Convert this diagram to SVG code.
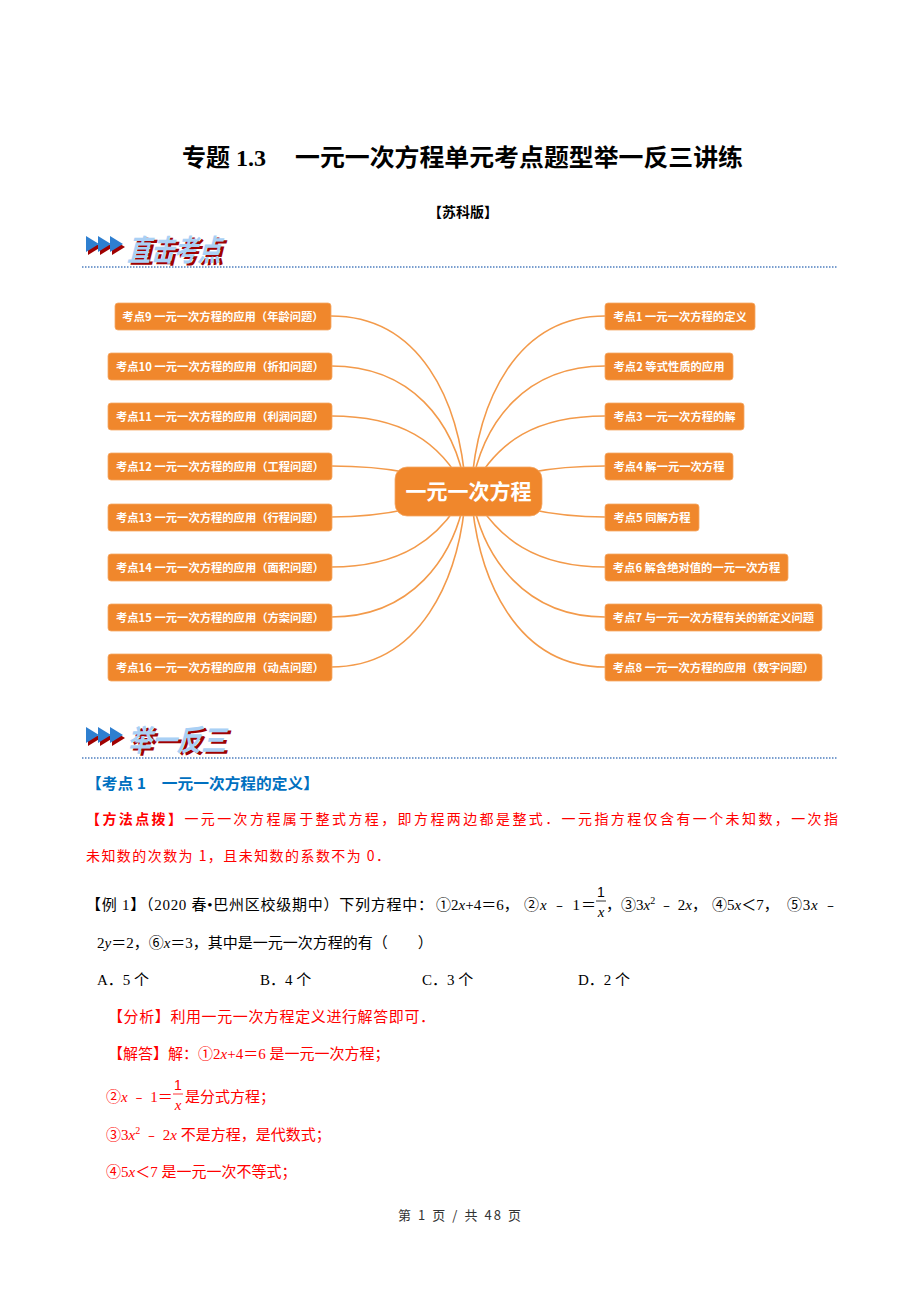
<svg xmlns="http://www.w3.org/2000/svg" width="920" height="1302" viewBox="0 0 920 1302">
<style>
.bg{fill:#fff}
.node rect{fill:#F0872C;stroke:#F5A866;stroke-width:0.8}
.nt{font-family:"Noto Sans CJK SC","Noto Sans",sans-serif;font-size:11.3px;font-weight:bold;fill:#fff;text-anchor:middle}
.ct{font-family:"Noto Sans CJK SC","Noto Sans",sans-serif;font-size:21px;font-weight:bold;fill:#fff;text-anchor:middle}
#connectors path{fill:none;stroke:#F39A4A;stroke-width:1.6}
.body{font-family:"Liberation Serif","Noto Sans CJK SC",serif;font-size:15px;fill:#000}
.red{fill:#FF0000}
.i{font-style:italic}
.dots{stroke:#4F7FC0;stroke-width:1.3;stroke-dasharray:1.5 1.5}
.shadow{fill:#A00000}
.tri{fill:#2E7FD0}
.hd{font-family:"Noto Sans CJK SC",sans-serif;font-size:26px;font-weight:bold}
</style>
<rect class="bg" x="0" y="0" width="920" height="1302"/>

<!-- Title -->
<g id="title">
<text x="182" y="166" style="font-family:'Noto Sans CJK SC',sans-serif;font-size:24px;font-weight:bold">专题<tspan style="font-family:'Liberation Serif',serif"> 1.3</tspan></text>
<text x="295" y="166" textLength="448" lengthAdjust="spacingAndGlyphs" style="font-family:'Noto Sans CJK SC',sans-serif;font-size:24px;font-weight:bold">一元一次方程单元考点题型举一反三讲练</text>
<text x="463" y="217" text-anchor="middle" style="font-family:'Noto Sans CJK SC',sans-serif;font-size:14px;font-weight:bold">【苏科版】</text>
</g>

<!-- Section header 1 -->
<g id="header1">
<polygon class="shadow" points="88,239 101,247 88,255"/>
<polygon class="shadow" points="100,239 113,247 100,255"/>
<polygon class="shadow" points="112,239 125,247 112,255"/>
<polygon class="tri" points="86,236 99,244 86,252"/>
<polygon class="tri" points="98,236 111,244 98,252"/>
<polygon class="tri" points="110,236 123,244 110,252"/>
<text class="hd shadow" transform="translate(130,263) skewX(-14) scale(0.9,1.15)">直击考点</text>
<text class="hd" fill="#A9D0F5" transform="translate(127,261) skewX(-14) scale(0.9,1.15)">直击考点</text>
<line class="dots" x1="82" y1="267" x2="838" y2="267"/>
</g>

<!-- Connectors -->
<g id="connectors">
<path d="M331,316 C420,316 460,400 466,491"/>
<path d="M331,366 C410,366 455,420 466,491"/>
<path d="M331,416 C400,416 440,440 466,491"/>
<path d="M331,466 C390,466 430,475 466,491"/>
<path d="M331,517 C390,517 430,505 466,491"/>
<path d="M331,567 C400,567 440,540 466,491"/>
<path d="M331,617 C410,617 455,560 466,491"/>
<path d="M331,667 C420,667 460,580 466,491"/>
<path d="M605,316 C517,316 477,400 471,491"/>
<path d="M605,366 C527,366 482,420 471,491"/>
<path d="M605,416 C537,416 497,440 471,491"/>
<path d="M605,466 C547,466 507,475 471,491"/>
<path d="M605,517 C547,517 507,505 471,491"/>
<path d="M605,567 C537,567 497,540 471,491"/>
<path d="M605,617 C527,617 482,560 471,491"/>
<path d="M605,667 C517,667 477,580 471,491"/>
</g>

<!-- Center node -->
<g id="center" class="node">
<rect x="395" y="467" width="147" height="49" rx="12"/>
<text class="ct" x="468.5" y="499">一元一次方程</text>
</g>

<!-- Left nodes -->
<g id="k9" class="node"><rect x="115" y="303" width="216" height="27" rx="3"/><text class="nt" x="223" y="320.5">考点9 一元一次方程的应用（年龄问题）</text></g>
<g id="k10" class="node"><rect x="108" y="353" width="224" height="27" rx="3"/><text class="nt" x="220" y="370.5">考点10 一元一次方程的应用（折扣问题）</text></g>
<g id="k11" class="node"><rect x="108" y="403" width="224" height="27" rx="3"/><text class="nt" x="220" y="420.5">考点11 一元一次方程的应用（利润问题）</text></g>
<g id="k12" class="node"><rect x="108" y="453" width="224" height="27" rx="3"/><text class="nt" x="220" y="470.5">考点12 一元一次方程的应用（工程问题）</text></g>
<g id="k13" class="node"><rect x="108" y="504" width="224" height="27" rx="3"/><text class="nt" x="220" y="521.5">考点13 一元一次方程的应用（行程问题）</text></g>
<g id="k14" class="node"><rect x="108" y="554" width="224" height="27" rx="3"/><text class="nt" x="220" y="571.5">考点14 一元一次方程的应用（面积问题）</text></g>
<g id="k15" class="node"><rect x="108" y="604" width="224" height="27" rx="3"/><text class="nt" x="220" y="621.5">考点15 一元一次方程的应用（方案问题）</text></g>
<g id="k16" class="node"><rect x="108" y="654" width="224" height="27" rx="3"/><text class="nt" x="220" y="671.5">考点16 一元一次方程的应用（动点问题）</text></g>

<!-- Right nodes -->
<g id="k1" class="node"><rect x="605" y="303" width="150" height="27" rx="3"/><text class="nt" x="680" y="320.5">考点1 一元一次方程的定义</text></g>
<g id="k2" class="node"><rect x="605" y="353" width="128" height="27" rx="3"/><text class="nt" x="669" y="370.5">考点2 等式性质的应用</text></g>
<g id="k3" class="node"><rect x="605" y="403" width="139" height="27" rx="3"/><text class="nt" x="674.5" y="420.5">考点3 一元一次方程的解</text></g>
<g id="k4" class="node"><rect x="605" y="453" width="128" height="27" rx="3"/><text class="nt" x="669" y="470.5">考点4 解一元一次方程</text></g>
<g id="k5" class="node"><rect x="605" y="504" width="94" height="27" rx="3"/><text class="nt" x="652" y="521.5">考点5 同解方程</text></g>
<g id="k6" class="node"><rect x="605" y="554" width="183" height="27" rx="3"/><text class="nt" x="696.5" y="571.5">考点6 解含绝对值的一元一次方程</text></g>
<g id="k7" class="node"><rect x="605" y="604" width="217" height="27" rx="3"/><text class="nt" x="713.5" y="621.5">考点7 与一元一次方程有关的新定义问题</text></g>
<g id="k8" class="node"><rect x="605" y="654" width="217" height="27" rx="3"/><text class="nt" x="713.5" y="671.5">考点8 一元一次方程的应用（数字问题）</text></g>

<!-- Section header 2 -->
<g id="header2">
<polygon class="shadow" points="88,730 101,738 88,746"/>
<polygon class="shadow" points="100,730 113,738 100,746"/>
<polygon class="shadow" points="112,730 125,738 112,746"/>
<polygon class="tri" points="86,727 99,735 86,743"/>
<polygon class="tri" points="98,727 111,735 98,743"/>
<polygon class="tri" points="110,727 123,735 110,743"/>
<text class="hd shadow" transform="translate(130,753) skewX(-14) scale(0.95,1.15)">举一反三</text>
<text class="hd" fill="#A9D0F5" transform="translate(127,751) skewX(-14) scale(0.95,1.15)">举一反三</text>
<line class="dots" x1="82" y1="758" x2="838" y2="758"/>
</g>

<!-- Body text -->
<g id="body">
<text x="86" y="789" textLength="233" lengthAdjust="spacingAndGlyphs" style="font-family:'Noto Sans CJK SC',sans-serif;font-size:15px;font-weight:bold;fill:#0070C0">【考点 1　一元一次方程的定义】</text>
<text x="86" y="824" textLength="752" lengthAdjust="spacing" style="font-family:'Noto Sans CJK SC',sans-serif;font-size:14px;fill:#FF0000"><tspan font-weight="bold">【方法点拨】</tspan>一元一次方程属于整式方程，即方程两边都是整式．一元指方程仅含有一个未知数，一次指</text>
<text x="86" y="861" textLength="304" lengthAdjust="spacing" style="font-family:'Noto Sans CJK SC',sans-serif;font-size:14px;fill:#FF0000">未知数的次数为 1，且未知数的系数不为 0．</text>

<text class="body" x="86" y="910" textLength="347" lengthAdjust="spacing">【例 1】（2020 春•巴州区校级期中）下列方程中：</text>
<text class="body" x="436" y="910">①2<tspan class="i">x</tspan>+4＝6，</text>
<text class="body" x="524" y="910" textLength="72" lengthAdjust="spacing">②<tspan class="i">x</tspan> ﹣ 1＝</text>
<text class="body" x="606" y="910">，</text>
<text class="body" x="621" y="910">③3<tspan class="i">x</tspan><tspan dy="-6" font-size="10">2</tspan><tspan dy="6"> ﹣ 2</tspan><tspan class="i">x</tspan>，</text>
<text class="body" x="712" y="910">④5<tspan class="i">x</tspan>＜7，</text>
<text class="body" x="787" y="910" textLength="51" lengthAdjust="spacing">⑤3<tspan class="i">x</tspan> ﹣</text>
<text class="body" x="601" y="897" text-anchor="middle" style="font-family:'Liberation Sans',sans-serif;font-size:14px">1</text>
<line x1="596" y1="901" x2="606" y2="901" stroke="#000" stroke-width="0.8"/>
<text class="body i" x="601" y="917" text-anchor="middle">x</text>

<text class="body" x="97" y="948">2<tspan class="i">y</tspan>＝2，⑥<tspan class="i">x</tspan>＝3，其中是一元一次方程的有（　　）</text>
<text class="body" x="97" y="985">A．5 个</text>
<text class="body" x="260" y="985">B．4 个</text>
<text class="body" x="422" y="985">C．3 个</text>
<text class="body" x="578" y="985">D．2 个</text>

<text class="body red" x="108" y="1022" textLength="327" lengthAdjust="spacing">【分析】利用一元一次方程定义进行解答即可．</text>
<text class="body red" x="108" y="1059">【解答】解：①2<tspan class="i">x</tspan>+4＝6 是一元一次方程；</text>
<text class="body red" x="106" y="1102">②<tspan class="i">x</tspan> ﹣ 1＝</text>
<text class="body red" x="178" y="1090" text-anchor="middle" style="font-family:'Liberation Sans',sans-serif;font-size:14px">1</text>
<line x1="173" y1="1094" x2="183" y2="1094" stroke="#FF0000" stroke-width="0.8"/>
<text class="body red i" x="178" y="1110" text-anchor="middle">x</text>
<text class="body red" x="185" y="1102">是分式方程；</text>
<text class="body red" x="106" y="1140">③3<tspan class="i">x</tspan><tspan dy="-6" font-size="10">2</tspan><tspan dy="6"> ﹣ 2</tspan><tspan class="i">x</tspan> 不是方程，是代数式；</text>
<text class="body red" x="106" y="1177">④5<tspan class="i">x</tspan>＜7 是一元一次不等式；</text>

<text x="398" y="1220" textLength="123" lengthAdjust="spacing" style="font-family:'Noto Sans CJK SC',sans-serif;font-size:13px;fill:#333">第 1 页 / 共 48 页</text>
</g>
</svg>
